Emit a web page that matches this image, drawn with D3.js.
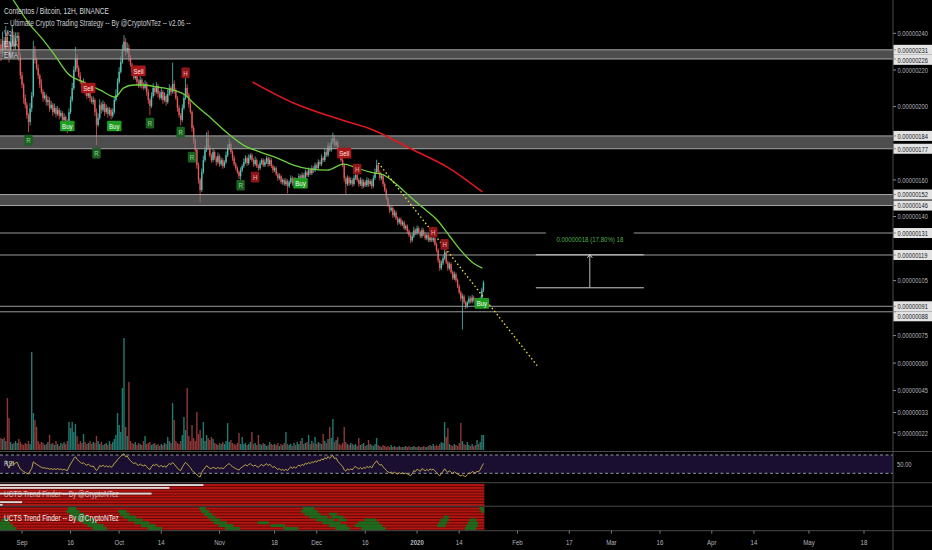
<!DOCTYPE html>
<html>
<head>
<meta charset="utf-8">
<script src="https://cdn.jsdelivr.net/npm/d3@7"></script>
<style>
  body { margin: 0; background: #000; }
  svg { display: block; }
</style>
</head>
<body>
<div id="chart"></div>
<script>
// ---- data (prices in satoshi, 1 = 0.00000001 BTC), 12H bars from 2019-08-25 ----
const firstOpen = 230;
const closes = [
  234, 229, 236, 231, 238, 233, 228, 235, 239, 233,
  237.5, 238.6, 228, 217, 212, 204.7, 201, 195.4, 191.6, 199,
  206, 231, 225.5, 221, 217, 212, 208, 204.7, 206, 202.5,
  203.6, 199.2, 201, 197, 199.2, 196, 198.2, 195, 196.5, 192.7,
  194.3, 191.6, 190, 197, 203.6, 210, 220, 226.6, 221, 216.8,
  213.5, 210.2, 212.4, 208, 205.8, 209, 204.7, 202.5, 203.6, 197,
  190, 193.8, 201, 198.2, 201.4, 197, 199.2, 196, 198.2, 195,
  197, 203.6, 206.4, 213.5, 219, 224.4, 231, 235.4, 229.9, 232,
  226.6, 222.8, 219, 215.7, 218, 213.5, 211.3, 214.6, 211.8, 210.2,
  212.4, 208, 203.6, 200.3, 205.8, 210.2, 208, 211.3, 207, 204.7,
  208, 203.6, 205.8, 202.5, 207, 210.2, 208, 212.4, 209, 204.7,
  199.2, 195.4, 192.7, 199.2, 204.7, 210.2, 206.4, 201.4, 197, 188.3,
  181.7, 176.3, 168, 160, 154.4, 164.2, 170.8, 176.3, 183, 177.4,
  173.5, 170.8, 175.2, 171.9, 169.7, 173, 168.6, 170.8, 167.5, 169.7,
  173.5, 177.4, 179.6, 175.2, 171.9, 168.6, 166.4, 164.2, 162, 165.3,
  167.5, 169.7, 171.9, 169.1, 171.9, 173.5, 170.8, 168.6, 170.8, 167.5,
  166.4, 169.1, 170.8, 168, 169.7, 171.9, 168.6, 170.8, 167.5, 165.3,
  166.4, 163.1, 161, 162, 158.8, 159.9, 157.7, 159.3, 156.6, 158.8,
  161, 158.2, 160.4, 157.7, 159.9, 162, 159.9, 162.6, 161, 164.2,
  162.6, 165.3, 163.6, 166.4, 165.3, 168, 166.4, 169.7, 168.6, 171.9,
  170.8, 175.2, 173.5, 178.5, 176.3, 180.6, 182.8, 179, 180.6, 176.3,
  173.5, 170.8, 168, 160.9, 157.7, 161, 158.2, 159.9, 157.7, 161,
  162.6, 159.9, 157.7, 159.9, 156.6, 158.8, 157.1, 159.9, 157.7, 159.3,
  156.6, 161, 164.2, 168, 164.2, 161, 162, 157.7, 154.4, 150,
  146.2, 143.5, 144.6, 140.7, 142.3, 139, 136.8, 138.5, 135.7, 136.8,
  133.6, 134.7, 132, 129.8, 127, 129.2, 132.5, 130.9, 133.6, 131.4,
  129.2, 132.5, 130.3, 128.1, 129.8, 127, 129.2, 127, 128.1, 124.8,
  121.6, 116.1, 111.8, 114.5, 117.2, 120.5, 115, 111.8, 114, 109.6,
  106.3, 108.5, 105.2, 101.9, 98.6, 95.3, 96.4, 93.1, 91, 93.1,
  95.3, 93.6, 95.8, 94.2, 92, 94.2, 93.1, 95.3, 99.7, 104
];
// wick length above / below the body, satoshi
const upWick = [
  4, 3, 5, 2, 6, 3, 2, 4, 5, 2,  3, 2, 2, 1.5, 2, 1, 2, 1.5, 1, 3,
  2, 5, 2, 1.5, 2, 1, 3, 1.5, 2, 1,  2, 1.5, 2, 1, 2.5, 1, 2, 1, 1.5, 1,
  2, 1, 1.5, 2, 2, 3, 2, 6, 2, 1.5,  2, 1, 3, 1.5, 1, 2, 1.5, 1, 2, 1,
  2, 2.5, 3, 1.5, 2, 1, 2, 1, 1.5, 1,  2, 2, 3, 2, 2.5, 3, 3, 3.6, 2, 3,
  2, 1.5, 1, 2, 2, 1, 1.5, 2, 1, 1.5,  2, 1, 1.5, 1, 2, 2.5, 1, 2, 1, 1.5,
  2, 1, 2, 1, 2.5, 2, 1, 11.6, 2, 1,  1, 1.5, 1, 2, 2, 11, 2, 1, 1.5, 1,
  1.5, 1, 1, 1.5, 1, 2, 2.5, 2, 3, 4,  1.5, 1, 2, 1, 1, 2, 1, 1.5, 1, 1,
  2, 2, 3, 1, 1, 1.5, 1, 1, 1, 1.5,  1, 2, 1.5, 1, 2, 1, 1, 1, 2, 1,
  1, 1.5, 1, 1, 1.5, 1, 1, 1.5, 1, 1,  1, 1, 1, 1.5, 1, 1, 1, 1.5, 1, 1,
  1.5, 1, 1, 1, 1, 1.5, 1, 1.5, 1, 1.5,  1, 1.5, 1, 1.5, 1, 1.5, 1, 1.5, 1, 2,
  1, 2, 1.5, 2, 1.5, 2, 3, 1.5, 1.5, 1,  1, 1, 1, 1, 1, 1.5, 1, 1.5, 1, 1.5,
  2, 1, 1, 1.5, 1, 1.5, 1, 1.5, 1, 1,  1, 1.5, 2, 3, 1, 1, 1.5, 1, 1, 1,
  1, 1, 1.5, 1, 1.5, 1, 1, 1, 1, 1,  1, 1, 1, 1, 1, 1.5, 2, 1, 1.5, 1,
  1, 1.5, 1, 1, 1, 1, 1, 1, 3, 1,  1, 1, 1, 1.5, 1.5, 3, 1, 1, 1, 1,
  1, 1.5, 1, 1, 1, 1, 1.5, 1, 1, 1,  1.5, 1, 1.5, 1, 1, 1, 1, 1, 1.5, 1
];
const downWick = [
  2, 4, 2, 3, 2, 3, 4, 2, 2, 4,  2, 2, 3, 2, 2, 3, 2, 2, 5.6, 2,
  2, 1, 2, 1, 2, 2, 1, 2, 1, 2,  2, 2, 1, 2, 1, 2, 1, 2, 1, 2,
  1, 2, 4.5, 1, 1, 1, 1, 1, 2, 1,  1, 2, 1, 2, 1.5, 1, 2, 1, 1.5, 2,
  11, 1, 1, 2, 1, 2, 1, 2, 1, 2,  1, 1, 1, 1, 1, 1, 1, 1, 2, 1,
  2, 1, 2, 1, 1, 2, 1, 1, 2, 1,  1, 2, 2, 5, 1, 1, 2, 1, 2, 1,
  1, 2, 1, 2, 1, 1, 2, 1, 2, 1,  2, 1.5, 3, 1, 1, 1, 1, 2, 1, 2,
  2, 2, 2, 2, 7, 1, 1, 1, 1, 1,  1, 1.5, 1, 1, 2, 1, 1.5, 1, 1.5, 1,
  1, 1, 1, 1, 1.5, 1, 1, 1, 1.5, 2,  1, 1, 1, 1.5, 1, 1, 1, 1.5, 1, 1,
  1.5, 1, 1, 1, 1, 1, 1.5, 1, 1, 1.5,  1, 1, 1.5, 1, 1, 1.5, 1, 1, 4, 1,
  1, 1.5, 1, 1.5, 1, 1, 1, 1, 1.5, 1,  1, 1, 1, 1, 1.5, 1, 1, 1, 1, 1,
  1, 1, 1, 1, 1, 1, 1, 1, 1, 1,  1.5, 1, 1, 2, 5.5, 1, 1.5, 1, 1.5, 1,
  1, 1, 1.5, 1, 1.5, 1, 1, 1, 1.5, 1,  1.5, 1, 1, 1, 1, 1.5, 1, 1.5, 1, 1,
  1, 1.5, 1, 1.5, 1, 1, 1.5, 1, 1, 1,  1, 1, 1.5, 1, 1.5, 1, 1, 1, 1, 1,
  1, 1, 1, 1, 1, 1, 1, 1, 1, 1,  1, 1.5, 1.5, 1, 1, 1, 1, 1.5, 1, 1,
  1, 1, 1, 1, 1, 1.5, 17, 1, 1.5, 1,  1, 1, 1, 1, 1.5, 1, 1, 1, 1, 1
];
const volumes = [
  130, 120, 110, 125, 90, 520, 320, 80, 60, 70,  90, 70, 110, 80, 60, 50, 70, 60, 90, 60,
  980, 370, 300, 230, 90, 60, 80, 70, 50, 60,  80, 150, 60, 70, 50, 90, 60, 40, 70, 60,
  80, 60, 90, 280, 220, 280, 180, 260, 140, 60,  90, 70, 160, 80, 60, 70, 90, 60, 80, 70,
  140, 90, 60, 80, 50, 60, 70, 50, 90, 60,  80, 110, 150, 370, 250, 180, 620, 1120, 230, 140,
  680, 90, 70, 60, 80, 50, 70, 60, 50, 90,  140, 60, 70, 80, 50, 60, 70, 50, 60, 40,
  60, 50, 70, 60, 130, 90, 70, 470, 300, 90,  70, 60, 90, 150, 330, 200, 620, 140, 90, 250,
  120, 90, 380, 160, 200, 120, 280, 90, 150, 120,  100, 130, 110, 70, 60, 50, 70, 60, 80, 60,
  90, 270, 80, 100, 70, 60, 50, 70, 170, 60,  130, 60, 70, 50, 60, 80, 180, 60, 70, 50,
  150, 60, 50, 70, 60, 40, 50, 80, 60, 50,  60, 50, 70, 40, 60, 50, 70, 180, 60, 50,
  60, 40, 70, 50, 80, 60, 90, 120, 60, 70,  80, 150, 60, 90, 70, 130, 60, 80, 70, 60,
  160, 90, 70, 110, 230, 120, 310, 80, 100, 130,  60, 50, 70, 230, 80, 60, 50, 70, 60, 50,
  60, 40, 120, 50, 60, 70, 40, 50, 100, 60,  50, 40, 60, 120, 50, 40, 30, 50, 40, 30,
  40, 30, 50, 30, 40, 30, 30, 40, 30, 30,  30, 40, 30, 40, 30, 30, 40, 30, 30, 40,
  30, 30, 40, 30, 30, 40, 50, 40, 60, 40,  50, 40, 60, 80, 70, 280, 130, 220, 60, 50,
  40, 60, 50, 40, 70, 270, 90, 60, 50, 80,  50, 40, 60, 40, 50, 100, 60, 80, 150, 150
];

// EMA curves (bar index, price)
const emaFastIdx = [8.6, 19.1, 27.2, 34.6, 42.6, 51.9, 62.4, 71.7, 76.6, 82.8, 88.9, 97.6, 107.5, 114.9, 119.8, 128.5, 140.8, 150.7, 161.2, 171.7, 181.6, 192.1, 202.6, 212.5, 221.1, 229.2, 237.2, 245.8, 253.9, 261.9, 270.5, 278.6, 286.6, 292.8, 298.3];
const emaFastVal = [258.2, 244.5, 236.3, 227.6, 217.8, 213.4, 209, 205.2, 210.1, 211.8, 211.8, 210.7, 209, 206.3, 202, 195.4, 185.6, 179, 175.2, 171.9, 168.1, 165.9, 165.3, 168.6, 166.4, 164.2, 162.7, 157.2, 150.6, 144.6, 138, 128.7, 119.9, 114.5, 111.8];
const emaSlowIdx = [156.3, 181.6, 198.3, 213.7, 229.2, 255.7, 276.7, 298.3];
const emaSlowVal = [213.4, 202, 196.5, 192.1, 187.8, 176.3, 167, 153.4];

// dotted trend line (bar index, price)
const trendIdx = [234.1, 332.3];
const trendVal = [169.2, 58.4];

// support / resistance
const zones = [[226, 231], [177, 184], [146, 152]];
const levels = [131, 119, 91, 88];

// strategy signals
const markIdx = [18, 42, 55, 60, 71, 86, 93, 112, 115, 119, 149, 158, 186, 213, 221, 268, 275, 298];
const markType = ["R", "Buy", "Sell", "R", "Buy", "Sell", "R", "R", "H", "R", "R", "H", "Buy", "Sell", "H", "H", "H", "Buy"];
const markVal = [181.7, 189.4, 210.2, 174.6, 189.4, 219.5, 191, 186.1, 218.4, 172.4, 157.1, 161.5, 158.2, 174.6, 165.9, 131.4, 124.8, 92.6];

// price range measurement
const measureDates = ["2020-02-06T16:00:00Z", "2020-03-11T00:00:00Z"];
const measureVals = [101.1, 119.1];
const measureBars = 18;

// axis ticks
const priceTicks = [240, 231, 226, 220, 200, 184, 177, 160, 152, 146, 140, 131, 119, 105, 91, 88, 75, 60, 45, 33, 22];
const priceMarked = [231, 226, 184, 177, 152, 146, 131, 119, 91, 88];
const timeTicks = ["2019-09-01", "2019-09-16", "2019-10-01", "2019-10-14", "2019-11-01", "2019-11-18", "2019-12-01", "2019-12-16", "2020-01-01", "2020-01-14", "2020-02-01", "2020-02-17", "2020-03-01", "2020-03-16", "2020-04-01", "2020-04-14", "2020-05-01", "2020-05-18"];
const timeLabels = ["Sep", "16", "Oct", "14", "Nov", "18", "Dec", "16", "2020", "14", "Feb", "17", "Mar", "16", "Apr", "14", "May", "18"];

// UCTS trend finder panes
const finderWhite = [126, 105, 0, 94, 0, 0, 14, 2];
const finderGreen = [
  [[43, 47], [124, 127], [188, 194], [297, 299]],
  [[42, 49], [74, 78], [125, 129], [187, 196], [298, 299]],
  [[44, 52], [75, 80], [127, 131], [189, 198], [204, 208]],
  [[46, 55], [77, 84], [129, 133], [192, 202], [206, 212], [275, 277]],
  [[2, 5], [48, 58], [80, 88], [131, 136], [196, 206], [210, 214], [226, 232], [273, 277], [291, 294]],
  [[0, 6], [52, 60], [84, 92], [133, 140], [160, 166], [200, 210], [222, 234], [272, 276], [290, 295]],
  [[0, 8], [55, 64], [88, 96], [136, 144], [168, 176], [204, 214], [220, 236], [271, 275], [289, 295]],
  [[0, 10], [58, 66], [92, 100], [140, 148], [176, 184], [208, 216], [224, 238], [288, 294]]
];

// ---- layout ----
const W = 932, H = 550, axisX = 893;
const mainBottom = 451.5, rsiTop = 451.5, rsiBottom = 482.7, f1Top = 482.7, f1Bottom = 506.2, f2Bottom = 530.7;
const startTime = Date.UTC(2019, 7, 25);
const HALF_DAY = 12 * 3600 * 1000;
const barTime = i => new Date(startTime + i * HALF_DAY);
const UP = "#55c0b4", DOWN = "#ea5757";
const FONT = "Liberation Sans, Arial, sans-serif";

const x = d3.scaleTime()
  .domain([new Date(Date.UTC(2019, 8, 1)), new Date(Date.UTC(2020, 4, 18))])
  .range([22, 864]);
const y = d3.scaleLinear().domain([12.55, 258.2]).range([450, 0]);
const yVol = d3.scaleLinear().domain([0, 1200]).range([450, 330]);
const yRsi = d3.scaleLinear().domain([30, 70]).range([473.3, 455]);

const bars = closes.map((c, i) => {
  const o = i === 0 ? firstOpen : closes[i - 1];
  return {
    i, t: barTime(i), o, c,
    h: Math.max(o, c) + upWick[i],
    l: Math.min(o, c) - downWick[i],
    v: volumes[i]
  };
});

const svg = d3.select("#chart").append("svg")
  .attr("width", W).attr("height", H)
  .style("background", "#000");

const defs = svg.append("defs");
defs.append("clipPath").attr("id", "clipMain")
  .append("rect").attr("x", 0).attr("y", 0).attr("width", axisX).attr("height", mainBottom);
defs.append("clipPath").attr("id", "clipRsi")
  .append("rect").attr("x", 0).attr("y", rsiTop).attr("width", axisX).attr("height", rsiBottom - rsiTop);

function txt(g, tx, ty, s, o = {}) {
  return g.append("text")
    .attr("transform", `translate(${tx},${ty}) scale(${o.sx || 0.78},1)`)
    .attr("font-family", FONT)
    .attr("font-size", o.size || 8)
    .attr("font-weight", o.weight || "normal")
    .attr("fill", o.fill || "#d1d4dc")
    .attr("text-anchor", o.anchor || "start")
    .attr("dominant-baseline", "central")
    .attr("opacity", o.opacity == null ? 1 : o.opacity)
    .text(s);
}

// ---- main pane ----
const main = svg.append("g").attr("clip-path", "url(#clipMain)");

// volume
main.append("g").selectAll("rect")
  .data(bars).enter().append("rect")
  .attr("x", d => x(d.t) - 0.7)
  .attr("width", 1.4)
  .attr("y", d => yVol(d.v))
  .attr("height", d => yVol(0) - yVol(d.v))
  .attr("fill", d => d.c >= d.o ? "#217a70" : "#8e3838");

// candles
const candles = main.append("g");
candles.selectAll("line")
  .data(bars).enter().append("line")
  .attr("x1", d => x(d.t)).attr("x2", d => x(d.t))
  .attr("y1", d => y(d.h)).attr("y2", d => y(d.l))
  .attr("stroke", d => d.c >= d.o ? UP : DOWN)
  .attr("stroke-width", 0.8);
candles.selectAll("rect")
  .data(bars).enter().append("rect")
  .attr("x", d => x(d.t) - 0.7)
  .attr("width", 1.4)
  .attr("y", d => y(Math.max(d.o, d.c)))
  .attr("height", d => Math.max(0.8, Math.abs(y(d.o) - y(d.c))))
  .attr("fill", d => d.c >= d.o ? UP : DOWN);

// zones
const zoneG = main.append("g");
zones.forEach(([lo, hi]) => {
  zoneG.append("rect")
    .attr("x", 0).attr("width", axisX)
    .attr("y", y(hi)).attr("height", y(lo) - y(hi))
    .attr("fill", "rgba(125,125,125,0.62)");
  [lo, hi].forEach(v => zoneG.append("line")
    .attr("x1", 0).attr("x2", axisX)
    .attr("y1", y(v)).attr("y2", y(v))
    .attr("stroke", "#a8a8a8").attr("stroke-width", 1));
});
levels.forEach(v => zoneG.append("line")
  .attr("x1", 0).attr("x2", axisX)
  .attr("y1", y(v)).attr("y2", y(v))
  .attr("stroke", "#9c9c9c").attr("stroke-width", 1));

// EMAs
const emaLine = d3.line()
  .x(d => x(barTime(d[0])))
  .y(d => y(d[1]))
  .curve(d3.curveMonotoneX);
main.append("path")
  .datum(emaFastIdx.map((v, k) => [v, emaFastVal[k]]))
  .attr("d", emaLine).attr("fill", "none")
  .attr("stroke", "#6fd13f").attr("stroke-width", 1.3);
main.append("path")
  .datum(emaSlowIdx.map((v, k) => [v, emaSlowVal[k]]))
  .attr("d", emaLine).attr("fill", "none")
  .attr("stroke", "#e2191c").attr("stroke-width", 1.6);

// dotted trend line
main.append("path")
  .datum(trendIdx.map((v, k) => [v, trendVal[k]]))
  .attr("d", d3.line().x(d => x(barTime(d[0]))).y(d => y(d[1])))
  .attr("fill", "none")
  .attr("stroke", "#e9e33a").attr("stroke-width", 1.4)
  .attr("stroke-dasharray", "1.4,2.6");

// signal labels
const markStyle = {
  R: { bg: "#1d5f22", fg: "#86d98b" },
  Buy: { bg: "#1f9d22", fg: "#f2fff2" },
  Sell: { bg: "#a9171a", fg: "#ffe3e3" },
  H: { bg: "#8e1518", fg: "#f6b5b5" }
};
const markG = main.append("g");
markIdx.forEach((mi, k) => {
  const st = markStyle[markType[k]];
  const cx = x(barTime(mi)), cy = y(markVal[k]);
  const g = markG.append("g");
  const box = g.append("rect");
  const t = txt(g, cx, cy + 0.3, markType[k], { size: 7.8, fill: st.fg, anchor: "middle" });
  const w = t.node().getComputedTextLength() * 0.78 + 4;
  box.attr("x", cx - w / 2).attr("y", cy - 5.3).attr("width", w).attr("height", 10.6)
    .attr("rx", 1).attr("fill", st.bg);
});

// measure tool
const mx0 = x(new Date(measureDates[0])), mx1 = x(new Date(measureDates[1]));
const mxc = (mx0 + mx1) / 2;
const mG = main.append("g");
measureVals.forEach(v => mG.append("line")
  .attr("x1", mx0).attr("x2", mx1).attr("y1", y(v)).attr("y2", y(v))
  .attr("stroke", "#cfcfcf").attr("stroke-width", 1));
mG.append("line")
  .attr("x1", mxc).attr("x2", mxc)
  .attr("y1", y(measureVals[0])).attr("y2", y(measureVals[1]))
  .attr("stroke", "#bdbdbd").attr("stroke-width", 1);
mG.append("path")
  .attr("d", `M${mxc - 2.5},${y(measureVals[1]) + 3}L${mxc},${y(measureVals[1])}L${mxc + 2.5},${y(measureVals[1]) + 3}`)
  .attr("fill", "none").attr("stroke", "#d0d0d0").attr("stroke-width", 1);
const diff = measureVals[1] - measureVals[0];
const pct = diff / measureVals[0] * 100;
const mLabel = `${(diff * 1e-8).toFixed(8)} (${pct.toFixed(2)}%) ${measureBars}`;
const labelY = y(measureVals[1]) - 16;
mG.append("rect")
  .attr("x", mxc - 44).attr("y", labelY - 9).attr("width", 88).attr("height", 18)
  .attr("fill", "#000");
txt(mG, mxc, labelY, mLabel, { size: 7.8, fill: "#4fae4f", anchor: "middle" });

// legend
const leg = svg.append("g");
txt(leg, 4, 11.5, "Contentos / Bitcoin, 12H, BINANCE", { size: 9, sx: 0.74, fill: "#d6d8de" });
txt(leg, 4, 23, "-- Ultimate Crypto Trading Strategy -- By @CryptoNTez -- v2.06 --", { size: 8.6, sx: 0.75, fill: "#c9ccd3" });
txt(leg, 4, 33.5, "Vol", { size: 8.6, sx: 0.75, fill: "#c9ccd3" });
txt(leg, 4, 44, "EMA", { size: 8.6, sx: 0.75, fill: "#c9ccd3" });
txt(leg, 4, 55, "EMA", { size: 8.6, sx: 0.75, fill: "#c9ccd3" });

// ---- RSI pane ----
const rsiG = svg.append("g");
rsiG.append("rect")
  .attr("x", 0).attr("width", axisX)
  .attr("y", yRsi(70)).attr("height", yRsi(30) - yRsi(70))
  .attr("fill", "#1b0f31");
[70, 30].forEach(v => rsiG.append("line")
  .attr("x1", 0).attr("x2", axisX).attr("y1", yRsi(v)).attr("y2", yRsi(v))
  .attr("stroke", "#a3a3b0").attr("stroke-width", 0.9).attr("stroke-dasharray", "3,2.5"));

const rsi = [];
let avgGain = 0, avgLoss = 0;
for (let i = 1; i < closes.length; i++) {
  const ch = closes[i] - closes[i - 1];
  const n = Math.min(i, 14);
  avgGain = (avgGain * (n - 1) + Math.max(ch, 0)) / n;
  avgLoss = (avgLoss * (n - 1) + Math.max(-ch, 0)) / n;
  if (i >= 4) rsi.push([i, avgLoss === 0 ? 100 : 100 - 100 / (1 + avgGain / avgLoss)]);
}
rsiG.append("path")
  .datum(rsi)
  .attr("clip-path", "url(#clipRsi)")
  .attr("d", d3.line().x(d => x(barTime(d[0]))).y(d => yRsi(d[1])))
  .attr("fill", "none").attr("stroke", "#c8b54a").attr("stroke-width", 0.9);
txt(rsiG, 4, 463, "RSI", { size: 7.8, fill: "#c9ccd3" });
txt(rsiG, 897, yRsi(50), "50.00", { size: 7.5, fill: "#b2b5be" });

// ---- UCTS trend finder panes ----
const xEnd = x(barTime(closes.length - 1)) + 0.8;
const x0 = x(barTime(0)) - 0.8;
const rowPitch = 2.85, rowH = 1.9;
const f1 = svg.append("g");
f1.append("rect").attr("x", x0).attr("width", xEnd - x0)
  .attr("y", f1Top + 1).attr("height", f1Bottom - f1Top - 1.5).attr("fill", "#5c0909");
finderWhite.forEach((end, r) => {
  const ry = f1Top + 1.4 + r * rowPitch;
  f1.append("rect").attr("x", x0).attr("width", xEnd - x0)
    .attr("y", ry).attr("height", rowH).attr("fill", "#b3140f");
  if (end > 0) f1.append("rect").attr("x", x0).attr("width", x(barTime(end)) - x0)
    .attr("y", ry).attr("height", rowH).attr("fill", "#d9d9d9");
});
txt(f1, 4, 494.5, "UCTS Trend Finder -- By @CryptoNTez", { size: 8.4, fill: "#e6e6e6", opacity: 0.75 });

const f2 = svg.append("g");
f2.append("rect").attr("x", x0).attr("width", xEnd - x0)
  .attr("y", f1Bottom + 1).attr("height", f2Bottom - f1Bottom - 1.5).attr("fill", "#5c0909");
finderGreen.forEach((runs, r) => {
  const ry = f1Bottom + 1.4 + r * rowPitch;
  f2.append("rect").attr("x", x0).attr("width", xEnd - x0)
    .attr("y", ry).attr("height", rowH).attr("fill", "#b3140f");
  runs.forEach(([a, b]) => f2.append("rect")
    .attr("x", x(barTime(a)) - 0.8).attr("width", x(barTime(b)) - x(barTime(a)) + 1.6)
    .attr("y", ry - 0.5).attr("height", rowH + 1).attr("fill", "#1d691d"));
});
txt(f2, 4, 518, "UCTS Trend Finder -- By @CryptoNTez", { size: 8.4, fill: "#f0f0f0" });

// ---- separators ----
const sep = svg.append("g");
[mainBottom, rsiBottom, f1Bottom, f2Bottom].forEach(v => sep.append("line")
  .attr("x1", 0).attr("x2", W).attr("y1", v).attr("y2", v)
  .attr("stroke", "#4a4a4a").attr("stroke-width", 1));
sep.append("line").attr("x1", axisX).attr("x2", axisX).attr("y1", 0).attr("y2", H)
  .attr("stroke", "#4a4a4a").attr("stroke-width", 1);

// ---- price axis ----
const pAxis = svg.append("g");
let lastY = -100;
priceTicks.map(v => ({ v, yy: y(v) })).sort((a, b) => a.yy - b.yy).forEach(d => {
  const ly = Math.max(d.yy, lastY + 10);
  lastY = ly;
  const marked = priceMarked.includes(d.v);
  if (marked) pAxis.append("rect").attr("x", axisX + 0.5).attr("y", ly - 5).attr("width", W - axisX).attr("height", 10)
    .attr("fill", "#e3e3e3");
  pAxis.append("line").attr("x1", axisX).attr("x2", axisX + 3).attr("y1", d.yy).attr("y2", d.yy)
    .attr("stroke", "#8a8a8a");
  txt(pAxis, 897.5, ly, (d.v * 1e-8).toFixed(8), { size: 7.6, sx: 0.76, fill: marked ? "#131722" : "#b2b5be" });
});

// ---- time axis ----
const tAxis = svg.append("g");
timeTicks.forEach((s, k) => {
  const tx = x(new Date(s + "T00:00:00Z"));
  tAxis.append("line").attr("x1", tx).attr("x2", tx).attr("y1", f2Bottom).attr("y2", f2Bottom + 3)
    .attr("stroke", "#7a7a7a");
  txt(tAxis, tx, 542, timeLabels[k], {
    size: 7.8, anchor: "middle", fill: "#b2b5be",
    weight: timeLabels[k] === "2020" ? "bold" : "normal"
  });
});
</script>
</body>
</html>
